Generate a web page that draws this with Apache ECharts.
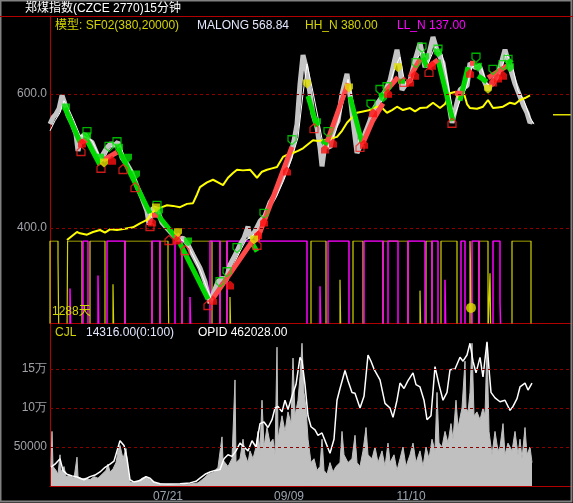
<!DOCTYPE html>
<html>
<head>
<meta charset="utf-8">
<title>郑煤指数 15分钟</title>
<script src="https://cdn.jsdelivr.net/npm/echarts@6.0.0/dist/echarts.min.js"></script>
<style>
  html, body { margin: 0; padding: 0; background: #000; }
  #main { width: 573px; height: 503px; }
</style>
</head>
<body>
<div id="main"></div>
<script>
// x 为K线序号（约 15 分钟一根，抽样读取）
var tickBars = [118, 239, 361];
var tickLabels = ['07/21', '09/09', '11/10'];

// 收盘价（灰）
var priceLine = [[0,555],[3,565],[6,570],[9,578],[12,598],[15,585],[18,568],[22,556],[26,540],[28,515],[31,535],[35,540],[38,532],[42,528],[47,510],[50,500],[53,510],[57,520],[61,526],[64,523],[68,528],[72,505],[77,495],[82,482],[87,462],[92,445],[97,425],[99,405],[103,430],[107,428],[112,408],[118,398],[123,390],[128,383],[133,385],[138,375],[143,360],[150,340],[155,320],[158,300],[160,288],[164,305],[168,320],[172,325],[176,322],[180,345],[186,362],[190,375],[194,385],[198,402],[200,385],[205,395],[210,410],[215,418],[220,438],[225,450],[230,468],[235,485],[240,505],[244,530],[247,555],[250,615],[253,658],[256,640],[260,601],[263,570],[267,550],[270,520],[272,492],[275,525],[280,520],[284,548],[288,560],[292,600],[297,630],[300,598],[303,560],[307,512],[311,525],[316,545],[320,560],[323,575],[327,585],[333,598],[340,620],[347,666],[350,640],[352,606],[356,615],[360,620],[365,650],[370,676],[373,655],[375,640],[379,660],[383,685],[387,665],[393,646],[397,610],[400,575],[402,557],[405,575],[410,606],[413,610],[417,612],[420,646],[425,640],[430,640],[434,620],[438,606],[443,620],[447,625],[452,650],[455,666],[458,650],[460,640],[465,615],[470,596],[474,581],[477,572],[480,557],[482,560]];
// 白色短均线
var whiteLine = [[0,545],[5,560],[10,572],[14,590],[18,580],[24,560],[30,538],[36,536],[42,530],[48,512],[53,500],[58,515],[64,525],[70,524],[76,500],[84,480],[90,455],[96,430],[102,415],[108,425],[114,405],[122,392],[130,384],[136,378],[142,362],[150,338],[157,310],[162,292],[168,308],[175,322],[182,340],[190,365],[196,382],[202,388],[210,400],[218,425],[226,445],[234,472],[242,505],[248,535],[253,600],[257,645],[262,610],[268,565],[273,525],[278,520],[286,545],[292,580],[298,622],[303,590],[309,525],[315,535],[322,560],[330,585],[338,605],[345,640],[350,655],[355,615],[362,618],[368,655],[373,665],[378,645],[385,670],[392,660],[398,615],[404,565],[410,590],[416,608],[422,640],[430,645],[437,615],[444,612],[450,630],[456,660],[462,645],[468,605],[474,590],[480,565],[484,555]];
// MALONG（黄）
var maLine = [[17,382],[22,388],[27,394],[30,392],[37,390],[43,394],[50,397],[55,393],[60,398],[67,397],[75,399],[83,401],[90,407],[97,412],[103,424],[110,430],[117,434],[123,433],[130,431],[137,436],[143,437],[147,450],[150,461],[157,468],[163,472],[168,468],[173,464],[178,475],[183,482],[187,487],[193,486],[200,487],[207,475],[212,484],[217,487],[222,489],[227,491],[233,506],[238,510],[243,512],[248,515],[253,519],[258,525],[263,531],[268,530],[273,531],[280,533],[287,536],[292,545],[297,557],[302,565],[307,572],[313,574],[320,576],[325,580],[330,582],[333,578],[337,572],[342,576],[347,581],[353,576],[360,579],[365,574],[370,579],[377,580],[383,587],[390,579],[395,585],[400,601],[405,603],[410,591],[413,606],[417,585],[420,579],[427,578],[433,581],[438,591],[443,579],[448,580],[453,581],[460,587],[465,585],[470,591],[475,594],[480,598]];
var malongLast = 568.84;

// 模型折线段 [x0, y0, x1, y1]
var greenLegs = [[15,579,30,528],[37,531,50,494],[68,519,100,422],[108,419,128,382],[130,377,158,294],[203,375,207,365],[258,597,267,551],[272,530,278,525],[300,596,312,527],[330,601,333,596],[348,619,355,619],[373,654,377,640],[388,651,403,560],[410,590,418,640],[428,627,437,618],[458,651,462,646]];
var redLegs = [[30,528,37,531],[53,501,67,513],[102,419,108,419],[125,386,130,390],[163,295,203,382],[207,382,242,521],[277,528,298,616],[313,527,323,561],[323,561,333,586],[335,603,348,625],[360,625,370,652],[378,640,388,651],[405,601,413,601],[420,646,425,646],[438,624,457,642]];

// 信号标记
var greenDown = [[16,579],[37,536],[50,504],[69,519],[78,504],[86,479],[109,424],[138,379],[267,557],[333,594],[375,654],[388,661],[428,640],[460,639]];
var greenHollow = [[37,543],[59,521],[67,528],[107,433],[170,319],[177,334],[187,370],[214,421],[242,531],[278,543],[321,584],[330,606],[337,610],[366,646],[372,669],[388,666],[426,654],[443,636],[453,643],[458,651]];
var redUp = [[32,527],[62,501],[102,409],[127,382],[163,292],[180,315],[208,390],[214,409],[237,485],[275,518],[283,527],[314,525],[323,572],[338,601],[360,618],[365,628],[382,643],[420,631],[443,618],[448,624],[453,628]];
var redHollow = [[31,515],[51,490],[73,488],[85,461],[100,403],[119,382],[135,367],[158,285],[207,375],[264,549],[310,521],[354,618],[379,633],[402,557]];
var yellowMark = [[54,497],[106,430],[128,393],[204,382],[257,615],[299,609],[348,639],[438,607]];

// HH_N / LL_N 状态段（顶 = 380）
var hhTop = 380;
var hhSpans = [[0,17],[17.6,32],[40,55],[75,102],[110,123],[132,162],[170,177],[261,276],[303,313],[333,358],[376,382],[391,407],[420,422],[429,438],[462,481]];
var llSpans = [[33,38],[57,75],[102,110],[125,132],[160,170],[177,257],[278,299],[314,333],[338,348],[358,375],[382,388],[411,415],[422,429],[443,460]];
var hhSpikes = [[8,300],[63,180],[118,250],[180,120],[290,200],[370,150],[440,230]];
var llSpikes = [[20,160],[48,220],[140,120],[270,170],[395,200],[450,100]];
var signalDot = [[421,70]];

// 成交量（灰）与 OPID（白）
var volume = [[1,25000],[2,70000],[3,25000],[6,20000],[8,15000],[10,40000],[11,18000],[14,25000],[16,12000],[20,14000],[24,10000],[27,37000],[28,12000],[32,9000],[36,10000],[40,8000],[44,12000],[48,10000],[52,15000],[56,20000],[58,28000],[60,18000],[63,22000],[66,30000],[68,45000],[70,52000],[73,35000],[76,48000],[78,20000],[80,5000],[84,4000],[88,6000],[92,10000],[96,12000],[100,8000],[104,5000],[108,3000],[115,2000],[122,1500],[130,1500],[140,2500],[148,4000],[154,10000],[158,15000],[164,18000],[168,24000],[172,63000],[173,33000],[175,30000],[178,25000],[182,35000],[185,136000],[186,30000],[190,35000],[193,60000],[195,40000],[198,30000],[200,45000],[203,35000],[206,50000],[208,70000],[210,45000],[212,110000],[214,50000],[217,75000],[220,55000],[223,60000],[225,40000],[227,178000],[228,60000],[232,90000],[235,70000],[238,95000],[241,80000],[243,164000],[245,90000],[248,110000],[250,140000],[252,183000],[254,120000],[256,100000],[258,60000],[261,30000],[264,35000],[267,20000],[270,25000],[272,60000],[274,20000],[277,15000],[280,30000],[283,18000],[286,25000],[290,30000],[292,70000],[294,40000],[298,30000],[302,35000],[305,65000],[307,30000],[310,25000],[313,45000],[316,75000],[318,40000],[322,35000],[325,50000],[328,30000],[332,45000],[335,25000],[338,55000],[340,30000],[344,40000],[347,20000],[350,35000],[353,50000],[356,25000],[360,40000],[363,55000],[366,30000],[370,45000],[373,25000],[376,50000],[379,35000],[382,60000],[385,45000],[387,120000],[389,55000],[392,50000],[395,70000],[398,55000],[401,80000],[403,60000],[406,110000],[408,75000],[412,100000],[415,160000],[416,100000],[418,95000],[420,120000],[422,183000],[424,90000],[427,95000],[430,85000],[433,100000],[435,90000],[437,183000],[439,70000],[442,40000],[445,70000],[448,45000],[450,50000],[453,80000],[455,40000],[458,55000],[462,45000],[465,70000],[468,40000],[470,60000],[472,35000],[475,75000],[477,40000],[480,50000],[482,30000]];
var opid = [[1,24000],[5,28000],[10,35000],[13,20000],[17,15000],[22,13000],[26,12000],[30,10000],[34,8000],[40,12000],[45,14000],[50,18000],[55,24000],[60,28000],[64,32000],[67,45000],[70,58000],[74,52000],[77,35000],[80,8000],[84,5000],[90,7000],[96,12000],[100,10000],[104,5000],[110,3000],[120,2500],[130,3000],[140,4000],[146,6000],[150,10000],[155,15000],[160,18000],[165,20000],[170,21000],[174,35000],[178,40000],[182,38000],[186,45000],[190,55000],[194,50000],[198,45000],[202,58000],[206,50000],[210,80000],[214,82000],[218,75000],[222,85000],[225,100000],[228,102000],[232,95000],[235,110000],[238,98000],[242,115000],[246,130000],[250,165000],[252,160000],[255,130000],[258,90000],[261,76000],[265,72000],[268,65000],[272,68000],[276,55000],[280,42000],[284,60000],[287,110000],[290,125000],[295,148000],[298,135000],[302,120000],[305,119000],[310,100000],[314,115000],[318,168000],[321,160000],[324,150000],[330,136000],[335,106000],[340,100000],[343,88000],[347,110000],[350,132000],[354,125000],[358,135000],[363,145000],[366,130000],[370,127000],[374,110000],[377,85000],[381,90000],[385,153000],[389,130000],[393,110000],[397,120000],[400,149000],[405,150000],[410,165000],[413,160000],[417,168000],[420,183000],[423,160000],[426,145000],[430,165000],[433,140000],[437,185000],[439,150000],[441,120000],[445,113000],[450,108000],[455,110000],[460,97000],[463,102000],[467,112000],[470,127000],[475,132000],[478,123000],[482,132000]];

var RED = '#b00000';
var DASH = '#8c0000';
var FONT = '12px "Liberation Sans", "Noto Sans CJK SC", sans-serif';

function legsToLine(legs) {
  var out = [];
  legs.forEach(function (l) {
    out.push([l[0], l[1]], [l[2], l[3]], [l[2], null]);
  });
  return out;
}

function stepPoints(spans, spikes) {
  var off = -60;
  var ev = [];
  spans.forEach(function (s) { ev.push([s[0], hhTop], [s[1], off]); });
  spikes.forEach(function (s) { ev.push([s[0], s[1]], [s[0] + 0.8, off]); });
  ev.sort(function (a, b) { return a[0] - b[0]; });
  return [[0, off]].concat(ev);
}

var downPath = 'path://M0,0 L10,0 L10,6 L5,10 L0,6 Z';
var upPath = 'path://M5,0 L10,4 L10,10 L0,10 L0,4 Z';

function marks(name, data, symbol, fill, stroke) {
  return {
    name: name, type: 'scatter', xAxisIndex: 0, yAxisIndex: 0,
    data: data, symbol: symbol, symbolSize: [8, 9], z: 6, silent: true,
    itemStyle: { color: fill, borderColor: stroke, borderWidth: stroke ? 1.3 : 0 }
  };
}

var chart = echarts.init(document.getElementById('main'));
var option = {
  backgroundColor: '#000',
  animation: false,
  grid: [
    { left: 50, right: 1, top: 16, height: 307 },
    { left: 50, right: 1, top: 323, height: 163 },
    { left: 50, right: 1, top: 241, height: 82 }
  ],
  xAxis: [
    { gridIndex: 0, type: 'value', min: 0, max: 522, axisLine: { onZero: false, lineStyle: { color: RED } }, axisTick: { show: false }, axisLabel: { show: false }, splitLine: { show: false } },
    { gridIndex: 1, type: 'value', min: 0, max: 522, axisLine: { onZero: false, lineStyle: { color: RED } }, axisTick: { show: false }, splitLine: { show: false },
      axisLabel: { customValues: tickBars, color: '#9aa4b0', fontSize: 12, margin: 5,
        formatter: function (v) { var i = tickBars.indexOf(v); return i >= 0 ? tickLabels[i] : ''; } } },
    { gridIndex: 2, type: 'value', min: 0, max: 522, show: false }
  ],
  yAxis: [
    { gridIndex: 0, type: 'value', min: 258.2, max: 716.4, axisLine: { show: true, lineStyle: { color: RED } }, axisTick: { show: false }, splitLine: { show: false },
      axisLabel: { customValues: [400, 600], color: '#a0a0a8', fontSize: 12, margin: 3, formatter: function (v) { return v.toFixed(1); } } },
    { gridIndex: 1, type: 'value', min: 0, max: 209000, axisLine: { show: true, lineStyle: { color: RED } }, axisTick: { show: false }, splitLine: { show: false },
      axisLabel: { customValues: [50000, 100000, 150000], color: '#a0a0a8', fontSize: 12, margin: 3,
        formatter: function (v) { return v >= 100000 ? (v / 10000) + '万' : String(v); } } },
    { gridIndex: 2, type: 'value', min: 0, max: hhTop, show: false }
  ],
  graphic: [
    { type: 'rect', shape: { x: 0.5, y: 0.5, width: 571, height: 501 }, style: { fill: 'none', stroke: '#808080', lineWidth: 2 }, z: 100 },
    { type: 'line', shape: { x1: 0, y1: 16.5, x2: 573, y2: 16.5 }, style: { stroke: RED, lineWidth: 1 }, z: 100 },
    { type: 'text', x: 25, y: 9, style: { text: '郑煤指数(CZCE 2770)15分钟', fill: '#ffffff', font: FONT, verticalAlign: 'middle' }, z: 100 },
    { type: 'text', x: 55, y: 26, style: { text: '模型: SF02(380,20000)', fill: '#d4d400', font: FONT, verticalAlign: 'middle' }, z: 100 },
    { type: 'text', x: 197, y: 26, style: { text: 'MALONG ' + malongLast.toFixed(2), fill: '#e4e8ff', font: FONT, verticalAlign: 'middle' }, z: 100 },
    { type: 'text', x: 305, y: 26, style: { text: 'HH_N 380.00', fill: '#d4d400', font: FONT, verticalAlign: 'middle' }, z: 100 },
    { type: 'text', x: 397, y: 26, style: { text: 'LL_N 137.00', fill: '#ff00ff', font: FONT, verticalAlign: 'middle' }, z: 100 },
    { type: 'text', x: 52, y: 312, style: { text: '1288天', fill: '#d4d400', font: FONT, verticalAlign: 'middle' }, z: 100 },
    { type: 'text', x: 55, y: 333, style: { text: 'CJL', fill: '#d4d400', font: FONT, verticalAlign: 'middle' }, z: 100 },
    { type: 'text', x: 86, y: 333, style: { text: '14316.00(0:100)', fill: '#e4e8ff', font: FONT, verticalAlign: 'middle' }, z: 100 },
    { type: 'text', x: 198, y: 333, style: { text: 'OPID 462028.00', fill: '#ffffff', font: FONT, verticalAlign: 'middle' }, z: 100 }
  ],
  series: [
    { name: 'HH_N', type: 'line', xAxisIndex: 2, yAxisIndex: 2, step: 'end', data: stepPoints(hhSpans, hhSpikes), showSymbol: false, silent: true, z: 1,
      lineStyle: { color: '#d4d400', width: 1.2 } },
    { name: 'LL_N', type: 'line', xAxisIndex: 2, yAxisIndex: 2, step: 'end', data: stepPoints(llSpans, llSpikes), showSymbol: false, silent: true, z: 1,
      lineStyle: { color: '#ff00ff', width: 1.5 } },
    { name: 'dot', type: 'scatter', xAxisIndex: 2, yAxisIndex: 2, data: signalDot, symbolSize: 10, silent: true, z: 2,
      itemStyle: { color: '#e0e000' } },
    { name: 'price', type: 'line', xAxisIndex: 0, yAxisIndex: 0, data: priceLine, showSymbol: false, silent: true, z: 2,
      lineStyle: { color: '#c4c4c4', width: 5 },
      markLine: { silent: true, symbol: 'none', label: { show: false }, lineStyle: { color: DASH, type: [3, 3], width: 1 },
        data: [{ yAxis: 400 }, { yAxis: 600 }] } },
    { name: 'close', type: 'line', xAxisIndex: 0, yAxisIndex: 0, data: whiteLine, showSymbol: false, silent: true, z: 3,
      lineStyle: { color: '#ffffff', width: 1 } },
    { name: 'MALONG', type: 'line', xAxisIndex: 0, yAxisIndex: 0, data: maLine, showSymbol: false, silent: true, z: 3,
      lineStyle: { color: '#ffff00', width: 2 } },
    { name: 'malongTick', type: 'line', xAxisIndex: 0, yAxisIndex: 0, data: [[503, malongLast], [522, malongLast]], showSymbol: false, silent: true, z: 3,
      lineStyle: { color: '#e0e000', width: 1.5 } },
    { name: 'down', type: 'line', xAxisIndex: 0, yAxisIndex: 0, data: legsToLine(greenLegs), showSymbol: false, silent: true, z: 4,
      connectNulls: false, lineStyle: { color: '#00d800', width: 5 } },
    { name: 'up', type: 'line', xAxisIndex: 0, yAxisIndex: 0, data: legsToLine(redLegs), showSymbol: false, silent: true, z: 4,
      connectNulls: false, lineStyle: { color: '#ff4848', width: 5 } },
    marks('greenDown', greenDown, downPath, '#00e000'),
    marks('greenHollow', greenHollow, downPath, 'rgba(0,0,0,0)', '#00e000'),
    marks('redUp', redUp, upPath, '#ff1010'),
    marks('redHollow', redHollow, upPath, 'rgba(0,0,0,0)', '#ff2020'),
    marks('yellowMark', yellowMark, downPath, '#e0e000'),
    { name: 'CJL', type: 'line', xAxisIndex: 1, yAxisIndex: 1, data: volume, showSymbol: false, silent: true, z: 2,
      lineStyle: { color: '#c0c0c0', width: 1 }, areaStyle: { color: '#c0c0c0', opacity: 1 },
      markLine: { silent: true, symbol: 'none', label: { show: false }, lineStyle: { color: DASH, type: [3, 3], width: 1 },
        data: [{ yAxis: 50000 }, { yAxis: 100000 }, { yAxis: 150000 }] } },
    { name: 'OPID', type: 'line', xAxisIndex: 1, yAxisIndex: 1, data: opid, showSymbol: false, silent: true, z: 3,
      lineStyle: { color: '#ffffff', width: 1.5 } }
  ]
};
chart.setOption(option);
</script>
</body>
</html>
